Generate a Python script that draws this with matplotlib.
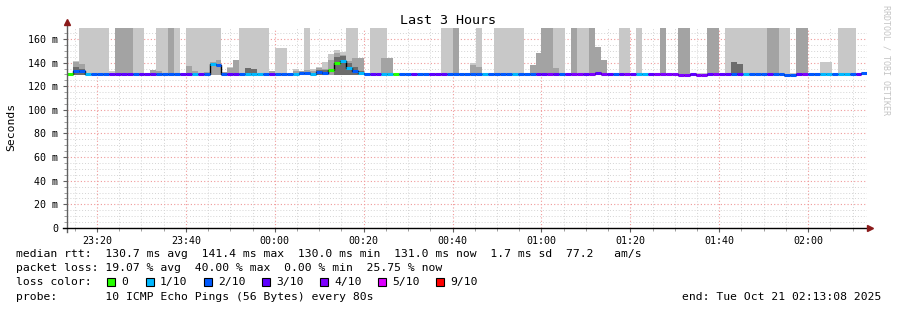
import matplotlib
matplotlib.use("Agg")
import matplotlib.pyplot as plt
import matplotlib.dates as mdates
from matplotlib.ticker import MultipleLocator, FuncFormatter
from matplotlib.patches import Rectangle
from datetime import datetime, timedelta

# ---- data (80 s steps) ----
first_bin = datetime(2025, 10, 20, 23, 12, 0)
step_sec = 80
t_start = datetime(2025, 10, 20, 23, 13, 8)
t_end = datetime(2025, 10, 21, 2, 13, 8)

# median rtt per step (ms)
median = [
    130.0, 130.0, 133.0, 132.6, 130.3, 130.4, 130.4, 130.4, 130.5, 130.5,
    130.5, 130.5, 130.4, 130.5, 130.5, 130.5, 130.4, 130.4, 130.4, 130.4,
    130.5, 130.5, 130.3, 130.5, 130.4, 138.8, 137.6, 130.4, 130.5, 130.5,
    130.4, 130.3, 130.3, 130.3, 130.4, 130.5, 130.4, 130.4, 130.4, 130.3,
    131.0, 131.0, 130.5, 131.8, 131.5, 133.8, 139.4, 141.4, 135.8, 133.0,
    131.6, 130.4, 130.5, 130.5, 130.3, 130.3, 130.2, 130.4, 130.4, 130.5,
    130.4, 130.4, 130.5, 130.5, 130.5, 130.4, 130.4, 130.4, 130.4, 130.4,
    130.4, 130.3, 130.4, 130.4, 130.4, 130.4, 130.3, 130.4, 130.4, 130.4,
    130.5, 130.5, 130.5, 130.5, 130.4, 130.5, 130.5, 130.5, 130.5, 130.5,
    131.2, 130.5, 130.5, 130.4, 130.5, 130.5, 130.5, 130.3, 130.3, 130.5,
    130.5, 130.5, 130.2, 130.0, 129.8, 129.8, 130.2, 129.8, 129.8, 130.2,
    130.2, 130.4, 130.4, 130.4, 130.5, 130.3, 130.4, 130.4, 130.4, 130.4,
    130.4, 130.4, 129.8, 129.8, 130.5, 130.5, 130.4, 130.4, 130.3, 130.3,
    130.4, 130.3, 130.3, 130.4, 130.6, 131.0,
]

# lost pings out of 10 per step
loss = [
    0, 0, 2, 2, 1, 2, 2, 2, 3, 3,
    3, 3, 2, 3, 3, 3, 2, 2, 2, 2,
    3, 3, 1, 3, 2, 1, 2, 2, 3, 3,
    2, 1, 1, 1, 2, 3, 2, 2, 2, 1,
    2, 2, 1, 2, 2, 0, 0, 1, 1, 2,
    1, 2, 3, 3, 1, 1, 0, 2, 2, 3,
    2, 2, 3, 3, 3, 2, 2, 2, 2, 2,
    2, 1, 2, 2, 2, 2, 1, 2, 2, 2,
    3, 3, 4, 3, 2, 3, 4, 4, 3, 4,
    3, 4, 3, 2, 3, 4, 3, 1, 1, 3,
    4, 4, 4, 4, 4, 4, 3, 4, 4, 3,
    4, 3, 3, 2, 3, 1, 2, 2, 2, 3,
    2, 2, 2, 2, 3, 4, 2, 2, 1, 1,
    2, 1, 1, 2, 3, 2,
]

# smoke: outer (light) top, inner (mid) top, core (dark) top; 0 = none
smoke_hi = [
    130.5, 130.5, 141, 175, 175, 175, 175, 175, 132.5, 175,
    175, 175, 175, 175, 131, 134, 175, 175, 175, 175,
    131, 175, 175, 175, 175, 175, 175, 132, 136, 142.5,
    175, 175, 175, 175, 175, 133, 152.5, 152.5, 131, 134.6,
    133, 175, 134.6, 136.5, 140.8, 147, 150.7, 149.3, 175, 175,
    144, 131, 175, 175, 175, 144, 131, 131, 131, 131,
    131, 131, 131, 131, 175, 175, 175, 131, 131, 140,
    175, 131, 131, 175, 175, 175, 175, 175, 131, 138,
    148, 175, 175, 175, 175, 131, 175, 175, 175, 175,
    153, 142, 131, 131, 175, 175, 131, 175, 131, 131,
    131, 175, 131, 131, 175, 175, 131, 131, 131, 175,
    175, 131, 175, 175, 175, 175, 175, 175, 175, 175,
    175, 175, 175, 131, 175, 175, 131, 131, 140.8, 140.8,
    131, 175, 175, 175, 131, 131,
]
smoke_mid = [
    0, 0, 140.5, 139, 0, 0, 0, 0, 0, 175,
    175, 175, 0, 0, 0, 134, 132.6, 0, 175, 0,
    0, 137.4, 133, 0, 132, 140.5, 142.5, 132, 135.8, 142.5,
    0, 135.5, 135, 0, 0, 133, 0, 0, 0, 133,
    133, 134, 133, 135.8, 135, 142, 148, 146.5, 141.4, 144,
    144, 0, 0, 0, 144, 144, 0, 0, 0, 0,
    0, 0, 0, 0, 0, 0, 175, 0, 0, 138,
    136, 0, 0, 0, 0, 0, 0, 0, 0, 138,
    148, 175, 175, 135.7, 0, 0, 175, 0, 0, 175,
    153, 142, 0, 0, 0, 0, 0, 0, 0, 0,
    0, 175, 0, 0, 175, 175, 0, 0, 0, 175,
    175, 0, 0, 0, 0, 0, 0, 0, 0, 175,
    175, 0, 0, 0, 175, 175, 0, 0, 0, 0,
    0, 0, 0, 0, 0, 0,
]
smoke_dark = [0] * 136
for i, v in [(2, 136), (3, 135), (31, 135.5), (32, 134.5), (43, 134), (44, 134),
             (46, 145), (47, 146), (48, 140), (49, 136), (50, 133),
             (113, 140.8), (114, 139)]:
    smoke_dark[i] = v
smoke_floor = 129.8

loss_colors = {0: "#26ff00", 1: "#00b8ff", 2: "#0059ff", 3: "#5e00ff",
               4: "#7e00ff", 5: "#dd00ff", 9: "#ff0000"}
legend_labels = ["0", "1/10", "2/10", "3/10", "4/10", "5/10", "9/10"]
legend_keys = [0, 1, 2, 3, 4, 5, 9]

W, H = 897, 310
MONO = "DejaVu Sans Mono"

fig = plt.figure(figsize=(W / 100, H / 100), dpi=100)
fig.patch.set_facecolor("white")
ax = fig.add_axes([66.5 / W, 82 / H, 800 / W, 200 / H])

starts = [first_bin + timedelta(seconds=step_sec * i) for i in range(len(median))]
width = step_sec / 86400.0

def layer(tops, color):
    xs, hs = [], []
    for s, t in zip(starts, tops):
        if t > smoke_floor:
            xs.append(s)
            hs.append(t - smoke_floor)
    ax.bar(xs, hs, width=width, bottom=smoke_floor, align="edge",
           color=color, linewidth=0, zorder=2)

layer(smoke_hi, "#c8c8c8")
layer(smoke_mid, "#a3a3a3")
layer(smoke_dark, "#6c6c6c")

# median: black risers, then loss coloured steps
edges = starts + [starts[-1] + timedelta(seconds=step_sec)]
ax.step(edges, median + [median[-1]], where="post", color="black", lw=1.0, zorder=3)
ends = [s + timedelta(seconds=step_sec) for s in starts]
ax.hlines(median, starts, ends, colors=[loss_colors[l] for l in loss], lw=2.2, zorder=4)

ax.set_xlim(t_start, t_end)
ax.set_ylim(0, 169.3)

ax.xaxis.set_major_locator(mdates.MinuteLocator(byminute=range(0, 60, 20)))
ax.xaxis.set_minor_locator(mdates.MinuteLocator(byminute=range(0, 60, 5)))
ax.xaxis.set_major_formatter(mdates.DateFormatter("%H:%M"))
ax.yaxis.set_major_locator(MultipleLocator(20))
ax.yaxis.set_minor_locator(MultipleLocator(5))
ax.yaxis.set_major_formatter(FuncFormatter(lambda v, p: "0" if v == 0 else "%d m" % v))

ax.grid(which="minor", color="#d4d4d4", linestyle=(0, (1, 2)), lw=0.7, zorder=0)
ax.grid(which="major", color="#f09a9a", linestyle=(0, (1, 2)), lw=0.8, zorder=1)
ax.set_axisbelow(True)

ax.tick_params(which="major", length=3, color="#606060", labelsize=7.2, pad=3)
ax.tick_params(which="minor", length=2, color="#909090")
for lab in ax.get_xticklabels() + ax.get_yticklabels():
    lab.set_family(MONO)

for side in ("top", "right", "left", "bottom"):
    ax.spines[side].set_visible(False)

# axes with arrow heads like rrdtool
ax.plot([0, 0], [-0.02, 1.02], transform=ax.transAxes, color="#606060", lw=1.0,
        clip_on=False, zorder=5)
ax.plot([-0.005, 1.0], [0, 0], transform=ax.transAxes, color="black", lw=1.0,
        clip_on=False, zorder=5)
ax.plot([0], [1.03], marker="^", ms=4, color="#8b1a1a", transform=ax.transAxes,
        clip_on=False, zorder=6)
ax.plot([1.004], [0], marker=">", ms=4, color="#8b1a1a", transform=ax.transAxes,
        clip_on=False, zorder=6)

fig.text(448 / W, 1 - 20 / H, "Last 3 Hours", ha="center", va="center",
         fontsize=9.6, family=MONO)
fig.text(11 / W, 1 - 127 / H, "Seconds", rotation=90, ha="center", va="center",
         fontsize=8.2, family=MONO)
fig.text(886 / W, 1 - 60 / H, "RRDTOOL / TOBI OETIKER", rotation=270,
         ha="center", va="center", fontsize=6, family=MONO, color="#c4c4c4")

lines = [
    "median rtt:  130.7 ms avg  141.4 ms max  130.0 ms min  131.0 ms now  1.7 ms sd  77.2   am/s",
    "packet loss: 19.07 % avg  40.00 % max  0.00 % min  25.75 % now",
    "loss color:",
    "probe:       10 ICMP Echo Pings (56 Bytes) every 80s",
]
line_y = [254, 268, 282, 297]
for txt, y in zip(lines, line_y):
    fig.text(16 / W, 1 - y / H, txt, ha="left", va="center", fontsize=8.2, family=MONO)

label_x = [121, 160, 218, 276, 334, 392, 450]
for key, lab, lx in zip(legend_keys, legend_labels, label_x):
    bx = lx - 14
    fig.patches.append(Rectangle((bx / W, 1 - 286 / H), 8 / W, 8 / H,
                                 transform=fig.transFigure, facecolor=loss_colors[key],
                                 edgecolor="black", lw=0.8))
    fig.text(lx / W, 1 - 282 / H, lab, ha="left", va="center", fontsize=8.2, family=MONO)

fig.text(881 / W, 1 - 297 / H, "end: Tue Oct 21 02:13:08 2025", ha="right",
         va="center", fontsize=8.2, family=MONO)

fig.savefig("out.png", dpi=100, facecolor="white")
